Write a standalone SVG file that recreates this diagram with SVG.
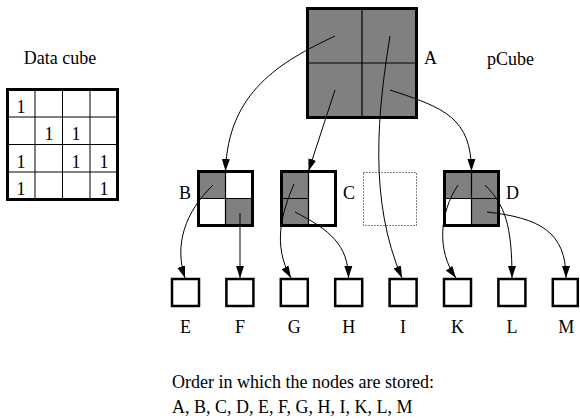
<svg xmlns="http://www.w3.org/2000/svg" width="580" height="420" viewBox="0 0 580 420">
  <style>
    text { font-family: "Liberation Serif", "Times New Roman", serif; font-size: 18px; fill: #000; }
    .mid { text-anchor: middle; }
    .box { fill: #fff; stroke: #000; stroke-width: 3; }
    .leaf { fill: #fff; stroke: #000; stroke-width: 2.5; }
    .shade { fill: #808080; }
    .div { stroke: #000; stroke-width: 1.2; fill: none; }
    .grid { stroke: #000; stroke-width: 1; fill: none; }
    .empty { fill: none; stroke: #000; stroke-width: 1; stroke-dasharray: 1 2; }
    .edge { fill: none; stroke: #000; stroke-width: 1; marker-end: url(#arrow); }
  </style>
  <defs>
    <marker id="arrow" markerUnits="userSpaceOnUse" markerWidth="12" markerHeight="10" viewBox="0 0 12 10" refX="12" refY="5" orient="auto">
      <path d="M0,1 L12,5 L0,9 Z" fill="#000"/>
    </marker>
  </defs>

  <rect width="580" height="420" fill="#fff"/>

  <!-- flat data cube -->
  <g id="datacube">
    <text class="mid" x="60" y="64">Data cube</text>
    <path class="grid" d="M35,89.5 V199.5 M62.5,89.5 V199.5 M90,89.5 V199.5 M7.5,117 H117.5 M7.5,144.5 H117.5 M7.5,172 H117.5"/>
    <rect x="7.5" y="89.5" width="110" height="110" fill="none" stroke="#000" stroke-width="3"/>
    <text class="mid" x="21" y="113">1</text>
    <text class="mid" x="49" y="140">1</text>
    <text class="mid" x="76" y="140">1</text>
    <text class="mid" x="21" y="168">1</text>
    <text class="mid" x="76" y="168">1</text>
    <text class="mid" x="104" y="168">1</text>
    <text class="mid" x="21" y="195">1</text>
    <text class="mid" x="104" y="195">1</text>
  </g>

  <text x="487" y="65">pCube</text>

  <!-- root node -->
  <g id="node-A">
    <rect class="box shade" x="307.5" y="8.5" width="109" height="109" style="fill:#808080"/>
    <path class="div" d="M362,8.5 V117.5 M307.5,63 H416.5"/>
    <text x="424" y="64">A</text>
  </g>

  <g id="node-B">
    <rect class="box" x="198.5" y="171.5" width="54" height="54"/>
    <rect class="shade" x="198.5" y="171.5" width="27" height="27"/>
    <rect class="shade" x="225.5" y="198.5" width="27" height="27"/>
    <path class="div" d="M225.5,171.5 V225.5 M198.5,198.5 H252.5"/>
    <rect x="198.5" y="171.5" width="54" height="54" fill="none" stroke="#000" stroke-width="3"/>
    <text x="179" y="199">B</text>
  </g>

  <g id="node-C">
    <rect class="box" x="281.5" y="171.5" width="54" height="54"/>
    <rect class="shade" x="281.5" y="171.5" width="27" height="54"/>
    <path class="div" d="M308.5,171.5 V225.5 M281.5,198.5 H308.5"/>
    <rect x="281.5" y="171.5" width="54" height="54" fill="none" stroke="#000" stroke-width="3"/>
    <text x="343" y="199">C</text>
  </g>

  <g id="node-empty">
    <rect class="empty" x="363.5" y="172.5" width="53" height="53"/>
  </g>

  <g id="node-D">
    <rect class="box" x="444.5" y="171.5" width="54" height="54"/>
    <rect class="shade" x="444.5" y="171.5" width="54" height="27"/>
    <rect class="shade" x="471.5" y="198.5" width="27" height="27"/>
    <path class="div" d="M471.5,171.5 V225.5 M444.5,198.5 H498.5"/>
    <rect x="444.5" y="171.5" width="54" height="54" fill="none" stroke="#000" stroke-width="3"/>
    <text x="506" y="199">D</text>
  </g>

  <!-- leaf nodes -->
  <g id="node-E"><rect class="leaf" x="172" y="279" width="27" height="27"/><text class="mid" x="185.5" y="333">E</text></g>
  <g id="node-F"><rect class="leaf" x="226.4" y="279" width="27" height="27"/><text class="mid" x="240" y="333">F</text></g>
  <g id="node-G"><rect class="leaf" x="280.8" y="279" width="27" height="27"/><text class="mid" x="294.3" y="333">G</text></g>
  <g id="node-H"><rect class="leaf" x="335.2" y="279" width="27" height="27"/><text class="mid" x="348.7" y="333">H</text></g>
  <g id="node-I"><rect class="leaf" x="389.6" y="279" width="27" height="27"/><text class="mid" x="403.1" y="333">I</text></g>
  <g id="node-K"><rect class="leaf" x="444" y="279" width="27" height="27"/><text class="mid" x="457.5" y="333">K</text></g>
  <g id="node-L"><rect class="leaf" x="498.4" y="279" width="27" height="27"/><text class="mid" x="511.9" y="333">L</text></g>
  <g id="node-M"><rect class="leaf" x="552.8" y="279" width="25" height="27"/><text class="mid" x="566.3" y="333">M</text></g>

  <!-- pointers from shaded cells to children -->
  <g id="connectors">
    <path class="edge" d="M335,36 C280,62 228,92 225.5,171"/>
    <path class="edge" d="M335,90 L308.5,171"/>
    <path class="edge" d="M390,36 C378,110 368,200 402,278"/>
    <path class="edge" d="M390,90 C445,108 471,118 471.5,171"/>
    <path class="edge" d="M213,185 C185,212 174,245 185,278"/>
    <path class="edge" d="M240,213 L240,278"/>
    <path class="edge" d="M294,184 C282,212 272,245 291,278"/>
    <path class="edge" d="M295,212 C330,230 348,245 348.5,278"/>
    <path class="edge" d="M458,185 C440,212 436,250 456,278"/>
    <path class="edge" d="M485,185 C505,205 512,225 512,278"/>
    <path class="edge" d="M487,212 C540,218 566,232 566,278"/>
  </g>

  <text x="172" y="388">Order in which the nodes are stored:</text>
  <text x="172" y="413">A, B, C, D, E, F, G, H, I, K, L, M</text>
</svg>
